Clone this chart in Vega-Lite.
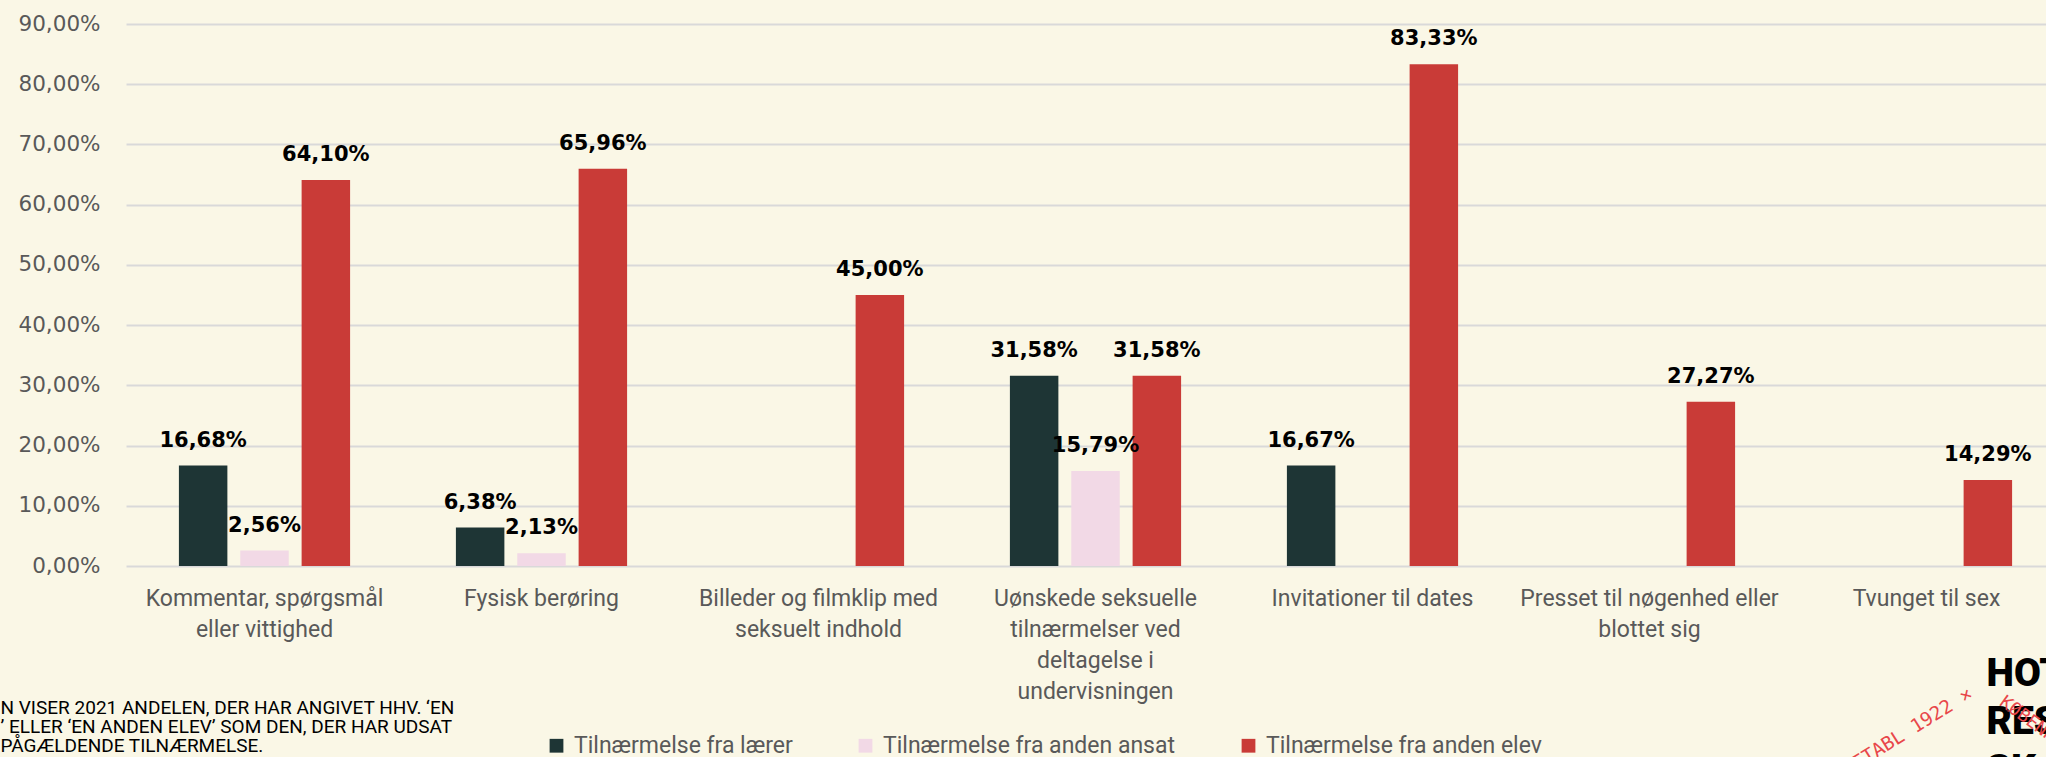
{
  "$schema": "https://vega.github.io/schema/vega-lite/v6.json",
  "width": 1920,
  "height": 542,
  "autosize": {"type": "none"},
  "padding": {"left": 126, "top": 24, "right": 0, "bottom": 191},
  "background": "#FAF7E6",
  "config": {
    "view": {"stroke": null},
    "locale": {"number": {"decimal": ",", "thousands": ".", "grouping": [3], "currency": ["", " kr."]}}
  },
  "data": {
    "values": [
      {"kategori": "Kommentar, spørgsmål|eller vittighed", "serie": "Tilnærmelse fra lærer", "andel": 0.1668},
      {"kategori": "Kommentar, spørgsmål|eller vittighed", "serie": "Tilnærmelse fra anden ansat", "andel": 0.0256},
      {"kategori": "Kommentar, spørgsmål|eller vittighed", "serie": "Tilnærmelse fra anden elev", "andel": 0.641},
      {"kategori": "Fysisk berøring", "serie": "Tilnærmelse fra lærer", "andel": 0.0638},
      {"kategori": "Fysisk berøring", "serie": "Tilnærmelse fra anden ansat", "andel": 0.0213},
      {"kategori": "Fysisk berøring", "serie": "Tilnærmelse fra anden elev", "andel": 0.6596},
      {"kategori": "Billeder og filmklip med|seksuelt indhold", "serie": "Tilnærmelse fra anden elev", "andel": 0.45},
      {"kategori": "Uønskede seksuelle|tilnærmelser ved|deltagelse i|undervisningen", "serie": "Tilnærmelse fra lærer", "andel": 0.3158},
      {"kategori": "Uønskede seksuelle|tilnærmelser ved|deltagelse i|undervisningen", "serie": "Tilnærmelse fra anden ansat", "andel": 0.1579},
      {"kategori": "Uønskede seksuelle|tilnærmelser ved|deltagelse i|undervisningen", "serie": "Tilnærmelse fra anden elev", "andel": 0.3158},
      {"kategori": "Invitationer til dates", "serie": "Tilnærmelse fra lærer", "andel": 0.1667},
      {"kategori": "Invitationer til dates", "serie": "Tilnærmelse fra anden elev", "andel": 0.8333},
      {"kategori": "Presset til nøgenhed eller|blottet sig", "serie": "Tilnærmelse fra anden elev", "andel": 0.2727},
      {"kategori": "Tvunget til sex", "serie": "Tilnærmelse fra anden elev", "andel": 0.1429}
    ]
  },
  "encoding": {
    "xOffset": {
      "field": "serie",
      "type": "nominal",
      "scale": {
        "domain": ["Tilnærmelse fra lærer", "Tilnærmelse fra anden ansat", "Tilnærmelse fra anden elev"],
        "paddingInner": 0.21,
        "paddingOuter": 0
      }
    }
  },
  "layer": [
    {
      "mark": {"type": "bar"},
      "encoding": {
        "x": {
          "field": "kategori",
          "type": "nominal",
          "sort": [
            "Kommentar, spørgsmål|eller vittighed",
            "Fysisk berøring",
            "Billeder og filmklip med|seksuelt indhold",
            "Uønskede seksuelle|tilnærmelser ved|deltagelse i|undervisningen",
            "Invitationer til dates",
            "Presset til nøgenhed eller|blottet sig",
            "Tvunget til sex"
          ],
          "scale": {"range": [0, 1939], "paddingInner": 0.382, "paddingOuter": 0.191},
          "axis": {
            "labelExpr": "split(datum.label, '|')",
            "labelAngle": 0,
            "labelFont": "Roboto",
            "labelFontSize": 23,
            "labelColor": "#595959",
            "labelPadding": 21,
            "labelLineHeight": 31,
            "labelLimit": 400,
            "labelOverlap": false,
            "domain": false,
            "ticks": false,
            "title": ["N VISER 2021 ANDELEN, DER HAR ANGIVET HHV. ‘EN", "’ ELLER ‘EN ANDEN ELEV’ SOM DEN, DER HAR UDSAT", "PÅGÆLDENDE TILNÆRMELSE."],
            "titleX": -126,
            "titleY": 147,
            "titleAlign": "left",
            "titleAnchor": "start",
            "titleBaseline": "alphabetic",
            "titleFont": "Roboto",
            "titleFontSize": 19,
            "titleFontWeight": "normal",
            "titleColor": "#000000",
            "titleLineHeight": 19
          }
        },
        "y": {
          "field": "andel",
          "type": "quantitative",
          "scale": {"domain": [0, 0.9], "nice": false},
          "axis": {
            "values": [0, 0.1, 0.2, 0.3, 0.4, 0.5, 0.6, 0.7, 0.8, 0.9],
            "format": ".2%",
            "labelFont": "DejaVu Sans",
            "labelFontSize": 21.5,
            "labelColor": "#595959",
            "labelPadding": 26,
            "domain": false,
            "ticks": false,
            "gridColor": "#D9D9D9",
            "gridWidth": 2,
            "title": ["HOT", "RES", "SK"],
            "titleAngle": 0,
            "titleX": 1860,
            "titleY": 661,
            "titleAlign": "left",
            "titleAnchor": "start",
            "titleBaseline": "alphabetic",
            "titleFont": "Roboto",
            "titleFontSize": 39,
            "titleFontWeight": 900,
            "titleColor": "#000000",
            "titleLineHeight": 48
          }
        },
        "color": {
          "field": "serie",
          "type": "nominal",
          "scale": {
            "domain": ["Tilnærmelse fra lærer", "Tilnærmelse fra anden ansat", "Tilnærmelse fra anden elev"],
            "range": ["#1E3535", "#F2D9E6", "#C93B37"]
          },
          "legend": {
            "orient": "none",
            "legendX": 419,
            "legendY": 710,
            "direction": "horizontal",
            "columns": 3,
            "title": null,
            "symbolType": "square",
            "symbolSize": 190,
            "symbolStrokeWidth": 0,
            "labelFont": "Roboto",
            "labelFontSize": 23,
            "labelColor": "#595959",
            "labelOffset": 6,
            "columnPadding": 61,
            "labelLimit": 400
          }
        }
      }
    },
    {
      "mark": {"type": "text", "dy": -19, "baseline": "alphabetic", "font": "DejaVu Sans", "fontWeight": "bold", "fontSize": 21, "color": "#000000"},
      "encoding": {
        "x": {
          "field": "kategori",
          "type": "nominal",
          "sort": [
            "Kommentar, spørgsmål|eller vittighed",
            "Fysisk berøring",
            "Billeder og filmklip med|seksuelt indhold",
            "Uønskede seksuelle|tilnærmelser ved|deltagelse i|undervisningen",
            "Invitationer til dates",
            "Presset til nøgenhed eller|blottet sig",
            "Tvunget til sex"
          ],
          "scale": {"range": [0, 1939], "paddingInner": 0.382, "paddingOuter": 0.191},
          "axis": {
            "orient": "top",
            "zindex": 2,
            "labels": false,
            "ticks": false,
            "domain": false,
            "grid": false,
            "title": "KØBENHAVN",
            "titleAngle": 36,
            "titleX": 1872,
            "titleY": 680,
            "titleAlign": "left",
            "titleAnchor": "start",
            "titleBaseline": "alphabetic",
            "titleFont": "DejaVu Sans Mono",
            "titleFontSize": 18,
            "titleFontWeight": "normal",
            "titleColor": "#E8474A"
          }
        },
        "y": {
          "field": "andel",
          "type": "quantitative",
          "scale": {"domain": [0, 0.9], "nice": false},
          "axis": {
            "orient": "right",
            "zindex": 2,
            "labels": false,
            "ticks": false,
            "domain": false,
            "grid": false,
            "title": "ETABL 1922  ×",
            "titleAngle": -32,
            "titleX": -134,
            "titleY": 704,
            "titleAlign": "center",
            "titleBaseline": "middle",
            "titleFont": "DejaVu Sans Mono",
            "titleFontSize": 19,
            "titleFontWeight": "normal",
            "titleColor": "#E8474A"
          }
        },
        "text": {"field": "andel", "type": "quantitative", "format": ".2%"}
      }
    }
  ],
  "resolve": {"axis": {"x": "independent", "y": "independent"}}
}
